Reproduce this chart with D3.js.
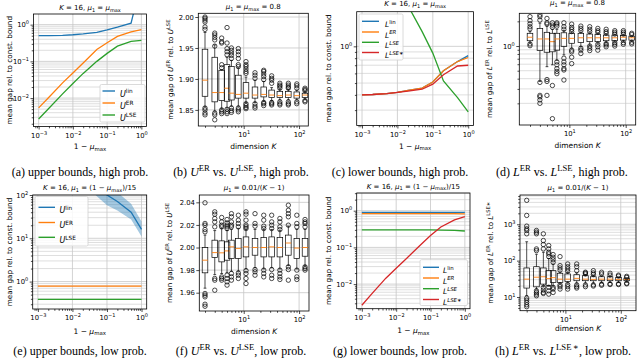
<!DOCTYPE html>
<html>
<head>
<meta charset="utf-8">
<script src="https://cdn.jsdelivr.net/npm/d3@7"></script>
<style>
  body { margin: 0; background: #fff; }
  svg { display: block; }
  text { font-family: "DejaVu Sans", sans-serif; fill: #000; }
  text.cap { font-family: "Liberation Serif", "DejaVu Serif", serif; }
</style>
</head>
<body>
<div id="chart"></div>
<script>
var WIDTH = 640, HEIGHT = 361;
var BLUE = '#1f77b4', ORANGE = '#ff7f0e', GREEN = '#2ca02c', RED = '#d62728';
var GRID_MAJOR = '#c6c6c6', GRID_MINOR = '#d6d6d6';

// ---- line panels: gap vs 1 - mu_max
var gapX = [0.001, 0.002, 0.005, 0.01, 0.02, 0.05, 0.1, 0.2, 0.5, 1.0];

// (a) upper bounds, high prob.
var aLin = [0.5, 0.505, 0.51, 0.53, 0.56, 0.62, 0.72, 0.85, 1.1, 15];
var aER  = [0.0054, 0.0105, 0.026, 0.048, 0.09, 0.21, 0.32, 0.48, 0.64, 0.73];
var aLSE = [0.0027, 0.0053, 0.013, 0.025, 0.047, 0.1, 0.165, 0.26, 0.35, 0.375];

// (c) lower bounds, high prob.
var cLin  = [0.40, 0.403, 0.41, 0.42, 0.435, 0.455, 0.51, 0.63, 0.75, 0.84];
var cER   = [0.40, 0.403, 0.41, 0.42, 0.435, 0.455, 0.51, 0.63, 0.75, 0.81];
var cLSE  = [40, 15, 5, 3.3, 2.15, 1.32, 0.88, 0.52, 0.38, 0.29];
var cLSEs = [0.40, 0.403, 0.41, 0.42, 0.43, 0.445, 0.49, 0.585, 0.69, 0.70];

// (e) upper bounds, low prob.
var eLin   = [5000, 3000, 1200, 600, 320, 160, 100, 71, 40, 16];
var eLinLo = [3000, 1800, 700, 350, 190, 95, 58, 44, 27, 11];
var eLinHi = [8000, 5000, 2000, 1000, 550, 280, 170, 115, 63, 24.5];
var eER    = [0.79, 0.79, 0.79, 0.79, 0.79, 0.79, 0.79, 0.79, 0.79, 0.79];
var eLSE   = [0.39, 0.39, 0.39, 0.39, 0.39, 0.39, 0.39, 0.39, 0.39, 0.39];

// (g) lower bounds, low prob.
var gLin  = [0.9, 0.9, 0.9, 0.9, 0.9, 0.9, 0.9, 0.9, 0.9, 0.9];
var gER   = [0.83, 0.83, 0.83, 0.83, 0.83, 0.83, 0.83, 0.83, 0.83, 0.82];
var gLSE  = [0.3, 0.3, 0.3, 0.3, 0.3, 0.3, 0.3, 0.295, 0.29, 0.28];
var gLSEs = [0.00265, 0.0056, 0.0145, 0.027, 0.05, 0.115, 0.21, 0.36, 0.56, 0.69];

// ---- box plot panels: gap ratio vs dimension K
var K = [2, 3, 4, 5, 6, 8, 11, 16, 23, 32, 45, 64, 91, 128];

// (b) U^ER vs U^LSE, high prob.
var bLo  = [1.855, 1.848, 1.852, 1.853, 1.856, 1.856, 1.862, 1.862, 1.864, 1.865, 1.866, 1.866, 1.866, 1.867];
var bQ1  = [1.872, 1.863, 1.865, 1.864, 1.866, 1.869, 1.869, 1.869, 1.871, 1.870, 1.870, 1.870, 1.869, 1.870];
var bMed = [1.898, 1.878, 1.878, 1.885, 1.877, 1.875, 1.877, 1.874, 1.875, 1.874, 1.873, 1.874, 1.873, 1.874];
var bQ3  = [1.948, 1.935, 1.914, 1.923, 1.920, 1.906, 1.894, 1.887, 1.887, 1.882, 1.880, 1.880, 1.879, 1.877];
var bHi  = [1.975, 1.955, 1.915, 1.935, 1.930, 1.918, 1.903, 1.898, 1.896, 1.886, 1.883, 1.883, 1.882, 1.879];
var bOut = [
    [2.000, 1.998, 1.995, 1.992, 1.984, 1.980, 1.853, 1.850, 1.845, 1.842],
    [1.974, 1.971, 1.967, 1.963, 1.953, 1.845, 1.842, 1.834],
    [1.966, 1.960, 1.958, 1.923, 1.918, 1.850, 1.847, 1.844],
    [1.983, 1.958, 1.949, 1.944, 1.939, 1.851, 1.847, 1.844],
    [1.950, 1.946, 1.942, 1.938, 1.933, 1.853, 1.849, 1.846],
    [1.949, 1.944, 1.939, 1.933, 1.923, 1.920, 1.853, 1.850, 1.847],
    [1.928, 1.923, 1.920, 1.916, 1.912, 1.909, 1.860, 1.857, 1.854, 1.852],
    [1.910, 1.906, 1.901, 1.860, 1.856, 1.853],
    [1.914, 1.912, 1.908, 1.904, 1.899, 1.862, 1.860, 1.857],
    [1.905, 1.901, 1.898, 1.893, 1.862, 1.860, 1.858],
    [1.893, 1.890, 1.888, 1.885, 1.863, 1.860, 1.858],
    [1.893, 1.890, 1.887, 1.885, 1.863, 1.860, 1.858],
    [1.892, 1.889, 1.885, 1.863, 1.860],
    [1.885, 1.883, 1.881, 1.865, 1.863]
];

// (d) L^ER vs L^LSE, high prob.
var dLo  = [1.10, 0.37, 0.56, 0.59, 0.67, 0.78, 0.94, 0.98, 1.02, 1.08, 1.10, 1.12, 1.12, 1.13];
var dQ1  = [1.16, 0.88, 0.84, 0.85, 0.89, 0.99, 1.08, 1.10, 1.13, 1.13, 1.16, 1.16, 1.18, 1.18];
var dMed = [1.28, 1.22, 1.22, 1.13, 1.22, 1.24, 1.24, 1.26, 1.26, 1.26, 1.26, 1.26, 1.28, 1.26];
var dQ3  = [1.43, 1.64, 1.47, 1.43, 1.43, 1.45, 1.43, 1.43, 1.40, 1.39, 1.36, 1.36, 1.35, 1.32];
var dHi  = [1.50, 1.90, 1.75, 1.60, 1.60, 1.55, 1.48, 1.48, 1.45, 1.42, 1.40, 1.37, 1.37, 1.33];
var dOut = [
    [2.28, 2.04, 1.87, 1.72, 1.62, 1.06, 1.01],
    [2.39, 2.28, 2.07, 0.36, 0.25, 0.24, 0.22, 0.20],
    [2.17, 1.92, 1.85, 0.39, 0.37, 0.25],
    [1.92, 1.80, 1.69, 0.33, 0.13],
    [1.92, 1.85, 1.75, 0.64, 0.59, 0.53, 0.49, 0.46],
    [1.92, 1.72, 1.60, 0.71, 0.64, 0.59, 0.53, 0.51, 0.385],
    [1.85, 1.69, 1.60, 1.50, 0.89, 0.85, 0.73, 0.61],
    [1.75, 1.64, 1.54, 0.94, 0.89, 0.81],
    [1.72, 1.60, 1.50, 1.00, 0.94, 0.88],
    [1.64, 1.54, 1.47, 1.05, 0.98, 0.89],
    [1.60, 1.50, 1.43, 1.07, 1.03, 0.98],
    [1.54, 1.47, 1.40, 1.10, 1.05, 1.00],
    [1.54, 1.47, 1.40, 1.10, 1.05],
    [1.43, 1.38, 1.11, 1.06]
];

// (f) U^ER vs U^LSE, low prob.
var fLo  = [1.964, 1.976, 1.977, 1.978, 1.979, 1.979, 1.981, 1.982, 1.981, 1.982, 1.981, 1.984, 1.981, 1.984];
var fQ1  = [1.9776, 1.9911, 1.9873, 1.9888, 1.9903, 1.9903, 1.9917, 1.9932, 1.9917, 1.9917, 1.9917, 1.9932, 1.9903, 1.9923];
var fMed = [1.9888, 1.9955, 1.9953, 1.9970, 2.0006, 1.9991, 2.0006, 2.0000, 2.0000, 2.0006, 2.0000, 2.0040, 1.9995, 2.0000];
var fQ3  = [2.0000, 2.0065, 2.0059, 2.0050, 2.0065, 2.0080, 2.0094, 2.0080, 2.0089, 2.0094, 2.0089, 2.0110, 2.0080, 2.0080];
var fHi  = [2.011, 2.015, 2.017, 2.015, 2.016, 2.017, 2.016, 2.016, 2.016, 2.016, 2.015, 2.019, 2.016, 2.016];
var fOut = [
    [2.0396, 2.0213, 2.0198, 2.0159, 2.0139, 1.9593, 1.9578, 1.9563, 1.9498, 1.9480],
    [2.0316, 2.0295, 2.0257, 2.0227, 2.0183, 1.9726, 1.9711, 1.9622],
    [2.0266, 2.0227, 2.0198, 2.0183, 1.9740, 1.9726, 1.9711],
    [2.0248, 2.0218, 2.0198, 2.0183, 2.0168, 1.9755, 1.9726, 1.9696, 1.9667],
    [2.0300, 2.0272, 2.0227, 2.0198, 2.0183, 1.9770, 1.9740, 1.9711],
    [2.0286, 2.0242, 2.0213, 2.0183, 1.9775, 1.9755, 1.9726],
    [2.0316, 2.0295, 2.0242, 2.0198, 2.0183, 2.0168, 1.9795, 1.9770, 1.9726, 1.9681],
    [2.0300, 2.0213, 2.0189, 1.9805, 1.9785, 1.9755],
    [2.0286, 2.0242, 2.0189, 2.0168, 1.9800, 1.9770, 1.9740],
    [2.0286, 2.0227, 2.0198, 2.0168, 1.9805, 1.9755, 1.9726],
    [2.0257, 2.0227, 2.0183, 2.0159, 1.9800, 1.9770, 1.9740, 1.9717],
    [2.0375, 2.0330, 2.0300, 2.0272, 2.0198, 1.9829, 1.9805, 1.9711],
    [2.0286, 2.0213, 2.0183, 1.9800, 1.9740, 1.9717],
    [2.0248, 2.0227, 2.0213, 2.0183, 1.9829, 1.9814, 1.9800]
];

// (h) L^ER vs L^LSE*, low prob.
var hLo  = [11, 16.5, 19.5, 19.8, 20, 23, 24, 24, 24, 24, 25, 25, 25, 25.5];
var hQ1  = [17.6, 19, 22.6, 21, 25, 25.2, 26.8, 28, 28, 28, 28, 28, 28, 28];
var hMed = [31, 35, 36, 32, 34, 31, 31, 32.5, 31, 30.5, 31, 31, 30.5, 30.5];
var hQ3  = [63, 68, 63, 53, 53, 45, 43, 41, 38.5, 36, 36, 36, 34.6, 33];
var hHi  = [330, 150, 170, 115, 80, 48, 47, 46, 41, 39, 38, 37, 35.5, 33.5];
var hOut = [
    [4560, 1750, 890, 750, 675, 546, 9.3, 8.2, 7.1, 6.1, 5.4],
    [675, 606, 546, 210, 189, 14.8, 13.3, 12, 10.8],
    [546, 357, 277, 210, 18.4, 15.5, 13.3, 12.5],
    [260, 210, 170, 153, 129, 18.4, 14.8, 12],
    [147, 124, 106, 90, 18.4, 16.5, 13.3],
    [129, 73, 63, 55, 21.5, 19.2, 16.5],
    [81, 68, 59, 51, 22, 19.2, 16.5],
    [81, 68, 53, 21.5, 19.2, 17.6],
    [48, 45.5, 43, 21.5, 19.2],
    [53, 46, 41.5, 21.5, 20],
    [48, 43, 22.5, 21],
    [45, 40, 23, 22],
    [40, 37.5, 23, 22],
    [37, 34.5, 24, 23]
];

// ---- text pieces (math parts as [text, style])
var TITLE_HIGH = [['K', 'i'], [' = 16, '], ['μ', 'i'], ['1', 'sub'], [' = '], ['μ', 'i'], ['max', 'sub']];
var TITLE_HIGH_K = [['μ', 'i'], ['1', 'sub'], [' = '], ['μ', 'i'], ['max', 'sub'], [' = 0.8']];
var TITLE_LOW = [['K', 'i'], [' = 16, '], ['μ', 'i'], ['1', 'sub'], [' = (1 \u2212 '], ['μ', 'i'], ['max', 'sub'], [')/15']];
var TITLE_LOW_K = [['μ', 'i'], ['1', 'sub'], [' = 0.01/('], ['K', 'i'], [' \u2212 1)']];
var XLAB_MU = [['1 \u2212 '], ['μ', 'i'], ['max', 'sub']];
var XLAB_K = [['dimension '], ['K', 'i']];
var YLAB_BOUND = [['mean gap rel. to const. bound']];

var svg = d3.select('#chart').append('svg')
    .attr('width', WIDTH)
    .attr('height', HEIGHT);

var clipCount = 0;

var isDecade = function(v) {
    var l = Math.log10(v);
    return Math.abs(l - Math.round(l)) < 1e-6;
};

// write text made of styled pieces into a <text> element
function rich(sel, parts, size) {
    var shift = 0;
    parts.forEach(function(p) {
        var kind = (p[1] || '').split(' ');
        var target = 0, fs = size;
        if (kind.indexOf('sup') >= 0) { target = -size * 0.42; fs = size * 0.72; }
        if (kind.indexOf('sub') >= 0) { target = size * 0.24; fs = size * 0.72; }
        var t = sel.append('tspan').attr('font-size', fs).text(p[0]);
        if (target !== shift) { t.attr('dy', target - shift); shift = target; }
        if (kind.indexOf('i') >= 0) t.attr('font-style', 'italic');
    });
    return sel;
}

function powLabel(sel, v) {
    var e = Math.round(Math.log10(v));
    sel.text('');
    sel.append('tspan').text('10');
    sel.append('tspan').attr('dy', -3).attr('font-size', 5)
        .text(e < 0 ? '\u2212' + (-e) : '' + e);
}

function pow10(e) { return Math.pow(10, e); }

/**
 * Build one subplot: grid, clip, frame, ticks, labels.
 */
function makeAxes(p) {
    var f = p.frame;
    var x = d3.scaleLog().domain(p.xDomain).range([f.x0, f.x1]);
    var y = (p.yLog ? d3.scaleLog() : d3.scaleLinear()).domain(p.yDomain).range([f.y1, f.y0]);
    var g = svg.append('g');
    var clipId = 'clip' + (clipCount++);
    g.append('clipPath').attr('id', clipId).append('rect')
        .attr('x', f.x0).attr('y', f.y0)
        .attr('width', f.x1 - f.x0).attr('height', f.y1 - f.y0);

    var xAll = x.ticks();
    var xMajor = xAll.filter(isDecade);
    var xMinor = xAll.filter(function(v) { return !isDecade(v); });
    var yMajor, yMinor;
    if (p.yLog) {
        var yAll = y.ticks();
        yMajor = yAll.filter(isDecade);
        yMinor = yAll.filter(function(v) { return !isDecade(v); });
    } else {
        yMajor = p.yTicks;
        yMinor = [];
    }

    // grid lines
    var grid = g.append('g').attr('stroke-width', 0.8);
    grid.selectAll('line.ymin').data(yMinor).join('line').attr('class', 'ymin')
        .attr('x1', f.x0).attr('x2', f.x1)
        .attr('y1', function(d) { return y(d); }).attr('y2', function(d) { return y(d); })
        .attr('stroke', GRID_MINOR);
    grid.selectAll('line.ymaj').data(yMajor).join('line').attr('class', 'ymaj')
        .attr('x1', f.x0).attr('x2', f.x1)
        .attr('y1', function(d) { return y(d); }).attr('y2', function(d) { return y(d); })
        .attr('stroke', GRID_MAJOR);
    grid.selectAll('line.xmaj').data(xMajor).join('line').attr('class', 'xmaj')
        .attr('y1', f.y0).attr('y2', f.y1)
        .attr('x1', function(d) { return x(d); }).attr('x2', function(d) { return x(d); })
        .attr('stroke', GRID_MAJOR);

    var plot = g.append('g').attr('clip-path', 'url(#' + clipId + ')');

    var top = g.append('g');
    top.append('rect')
        .attr('x', f.x0).attr('y', f.y0)
        .attr('width', f.x1 - f.x0).attr('height', f.y1 - f.y0)
        .attr('fill', 'none').attr('stroke', '#000').attr('stroke-width', 0.8);

    var blank = function() { return ''; };
    var styleAxis = function(a) {
        a.select('.domain').remove();
        a.attr('font-size', 6.8).attr('font-family', null);
        a.selectAll('line').attr('stroke-width', 0.7);
    };

    // x ticks
    var xMin = top.append('g').attr('transform', 'translate(0,' + f.y1 + ')')
        .call(d3.axisBottom(x).tickValues(xMinor).tickSize(1.8).tickFormat(blank));
    styleAxis(xMin);
    var xMaj = top.append('g').attr('transform', 'translate(0,' + f.y1 + ')')
        .call(d3.axisBottom(x).tickValues(xMajor).tickSize(3).tickPadding(3.2).tickFormat(blank));
    styleAxis(xMaj);
    xMaj.selectAll('.tick text').each(function(d) { powLabel(d3.select(this), d); });

    // y ticks
    if (p.yLog) {
        var yMin = top.append('g').attr('transform', 'translate(' + f.x0 + ',0)')
            .call(d3.axisLeft(y).tickValues(yMinor).tickSize(1.8).tickFormat(blank));
        styleAxis(yMin);
        var yMaj = top.append('g').attr('transform', 'translate(' + f.x0 + ',0)')
            .call(d3.axisLeft(y).tickValues(yMajor).tickSize(3).tickPadding(1.5).tickFormat(blank));
        styleAxis(yMaj);
        yMaj.selectAll('.tick text').each(function(d) { powLabel(d3.select(this), d); });
    } else {
        var yLin = top.append('g').attr('transform', 'translate(' + f.x0 + ',0)')
            .call(d3.axisLeft(y).tickValues(yMajor).tickSize(3).tickPadding(1.5).tickFormat(d3.format('.2f')));
        styleAxis(yLin);
    }

    // title, axis labels, caption
    var cx = (f.x0 + f.x1) / 2, cy = (f.y0 + f.y1) / 2;
    rich(top.append('text').attr('x', cx).attr('y', p.titleY).attr('text-anchor', 'middle'), p.title, 7);
    rich(top.append('text').attr('x', cx).attr('y', f.y1 + p.xLabelDy).attr('text-anchor', 'middle'), p.xLabel, 7.5);
    rich(top.append('text')
        .attr('transform', 'translate(' + p.yLabelX + ',' + cy + ') rotate(-90)')
        .attr('text-anchor', 'middle').attr('dy', '0.35em'), p.yLabel, 7.2);
    rich(top.append('text').attr('class', 'cap')
        .attr('x', p.capX).attr('y', p.capY).attr('text-anchor', 'middle'), p.caption, 12);

    return {x: x, y: y, g: g, plot: plot, frame: f};
}

function drawLine(ax, values, color) {
    var line = d3.line()
        .x(function(d, i) { return ax.x(gapX[i]); })
        .y(function(d) { return ax.y(d); });
    ax.plot.append('path').datum(values)
        .attr('d', line)
        .attr('fill', 'none')
        .attr('stroke', color)
        .attr('stroke-width', 1.3);
}

function drawBand(ax, lo, hi, color) {
    var area = d3.area()
        .x(function(d, i) { return ax.x(gapX[i]); })
        .y0(function(d, i) { return ax.y(lo[i]); })
        .y1(function(d, i) { return ax.y(hi[i]); });
    ax.plot.append('path').datum(gapX)
        .attr('d', area)
        .attr('fill', color)
        .attr('fill-opacity', 0.4);
}

function drawLegend(ax, L) {
    var lg = ax.g.append('g');
    lg.append('rect')
        .attr('x', L.x0).attr('y', L.y0)
        .attr('width', L.x1 - L.x0).attr('height', L.y1 - L.y0)
        .attr('rx', 1.5)
        .attr('fill', '#fff').attr('fill-opacity', 0.85)
        .attr('stroke', '#d0d0d0').attr('stroke-width', 0.8);
    L.rows.forEach(function(r, i) {
        var yy = L.rowY[i];
        lg.append('line')
            .attr('x1', L.sx0).attr('x2', L.sx1)
            .attr('y1', yy).attr('y2', yy)
            .attr('stroke', r[0]).attr('stroke-width', 1.4);
        rich(lg.append('text').attr('x', L.tx).attr('y', yy).attr('dy', '0.35em'), r[1], L.size);
    });
}

function drawBoxes(ax, lo, q1, med, q3, hi, out) {
    var w = 5.6;
    var boxes = ax.plot.selectAll('g.box').data(K).join('g').attr('class', 'box');
    boxes.each(function(k, i) {
        var b = d3.select(this);
        var cx = ax.x(k);
        var stroke = function(s) { return s.attr('stroke', '#000').attr('stroke-width', 0.7); };
        stroke(b.append('line').attr('x1', cx).attr('x2', cx).attr('y1', ax.y(q3[i])).attr('y2', ax.y(hi[i])));
        stroke(b.append('line').attr('x1', cx).attr('x2', cx).attr('y1', ax.y(q1[i])).attr('y2', ax.y(lo[i])));
        stroke(b.append('line').attr('x1', cx - w / 4).attr('x2', cx + w / 4).attr('y1', ax.y(hi[i])).attr('y2', ax.y(hi[i])));
        stroke(b.append('line').attr('x1', cx - w / 4).attr('x2', cx + w / 4).attr('y1', ax.y(lo[i])).attr('y2', ax.y(lo[i])));
        stroke(b.append('rect')
            .attr('x', cx - w / 2).attr('width', w)
            .attr('y', ax.y(q3[i])).attr('height', Math.max(0.5, ax.y(q1[i]) - ax.y(q3[i])))
            .attr('fill', 'none'));
        b.append('line')
            .attr('x1', cx - w / 2).attr('x2', cx + w / 2)
            .attr('y1', ax.y(med[i])).attr('y2', ax.y(med[i]))
            .attr('stroke', ORANGE).attr('stroke-width', 0.9);
        b.selectAll('circle').data(out[i]).join('circle')
            .attr('cx', cx).attr('cy', function(d) { return ax.y(d); })
            .attr('r', 2.2)
            .attr('fill', 'none').attr('stroke', '#000').attr('stroke-width', 0.7);
    });
}

var LINE_X = [pow10(-3.15), pow10(0.15)];

// (a)
var axA = makeAxes({
    frame: {x0: 33.5, x1: 146.5, y0: 14, y1: 126.5},
    xDomain: LINE_X, yDomain: [pow10(-2.774), pow10(0.29)], yLog: true,
    title: TITLE_HIGH, titleY: 10, xLabel: XLAB_MU, xLabelDy: 22.5,
    yLabel: YLAB_BOUND, yLabelX: 6,
    caption: [['(a) upper bounds, high prob.']], capX: 80, capY: 176
});
drawLine(axA, aLin, BLUE);
drawLine(axA, aER, ORANGE);
drawLine(axA, aLSE, GREEN);
drawLegend(axA, {
    x0: 100, x1: 145, y0: 84.5, y1: 122, sx0: 102.5, sx1: 115, tx: 120, size: 8,
    rowY: [91, 103, 115],
    rows: [[BLUE, [['U', 'i'], ['lin', 'sup']]], [ORANGE, [['U', 'i'], ['ER', 'sup']]], [GREEN, [['U', 'i'], ['LSE', 'sup']]]]
});

// (b)
var axB = makeAxes({
    frame: {x0: 198.3, x1: 308.3, y0: 13.3, y1: 126},
    xDomain: [pow10(0.18), pow10(2.167)], yDomain: [1.824, 2.006], yLog: false,
    yTicks: [1.85, 1.90, 1.95, 2.00],
    title: TITLE_HIGH_K, titleY: 9, xLabel: XLAB_K, xLabelDy: 22.5,
    yLabel: [['mean gap of '], ['U', 'i'], ['ER', 'sup'], [' rel. to '], ['U', 'i'], ['LSE', 'sup']], yLabelX: 167,
    caption: [['(b) '], ['U', 'i'], ['ER', 'sup'], [' vs. '], ['U', 'i'], ['LSE', 'sup'], [', high prob.']],
    capX: 241, capY: 176
});
drawBoxes(axB, bLo, bQ1, bMed, bQ3, bHi, bOut);

// (c)
var axC = makeAxes({
    frame: {x0: 356.7, x1: 473.5, y0: 11.7, y1: 125.5},
    xDomain: LINE_X, yDomain: [pow10(-0.649), pow10(0.284)], yLog: true,
    title: TITLE_HIGH, titleY: 6, xLabel: XLAB_MU, xLabelDy: 23,
    yLabel: YLAB_BOUND, yLabelX: 325,
    caption: [['(c) lower bounds, high prob.']], capX: 400, capY: 176
});
drawLine(axC, cLin, BLUE);
drawLine(axC, cER, ORANGE);
drawLine(axC, cLSE, GREEN);
drawLine(axC, cLSEs, RED);
drawLegend(axC, {
    x0: 359, x1: 403, y0: 14, y1: 60, sx0: 362, sx1: 379, tx: 385, size: 7.5,
    rowY: [21.3, 32, 42.3, 52.5],
    rows: [[BLUE, [['L', 'i'], ['lin', 'sup']]], [ORANGE, [['L', 'i'], ['ER', 'i sup']]],
           [GREEN, [['L', 'i'], ['LSE', 'i sup']]], [RED, [['L', 'i'], ['LSE\u2217', 'i sup']]]]
});

// (d)
var axD = makeAxes({
    frame: {x0: 519.3, x1: 635.7, y0: 13.3, y1: 125},
    xDomain: [pow10(0.111), pow10(2.178)], yDomain: [pow10(-0.963), pow10(0.399)], yLog: true,
    title: TITLE_HIGH_K, titleY: 5, xLabel: XLAB_K, xLabelDy: 22.5,
    yLabel: [['mean gap of '], ['L', 'i'], ['ER', 'sup'], [' rel. to '], ['L', 'i'], ['LSE', 'sup']], yLabelX: 486,
    caption: [['(d) '], ['L', 'i'], ['ER', 'sup'], [' vs. '], ['L', 'i'], ['LSE', 'sup'], [', high prob.']],
    capX: 562, capY: 176
});
drawBoxes(axD, dLo, dQ1, dMed, dQ3, dHi, dOut);

// (e)
var axE = makeAxes({
    frame: {x0: 32.7, x1: 146.7, y0: 195, y1: 309},
    xDomain: LINE_X, yDomain: [pow10(-0.633), 100], yLog: true,
    title: TITLE_LOW, titleY: 190, xLabel: XLAB_MU, xLabelDy: 24.5,
    yLabel: YLAB_BOUND, yLabelX: 6,
    caption: [['(e) upper bounds, low prob.']], capX: 80, capY: 354.5
});
drawBand(axE, eLinLo, eLinHi, BLUE);
drawLine(axE, eLin, BLUE);
drawLine(axE, eER, ORANGE);
drawLine(axE, eLSE, GREEN);
drawLegend(axE, {
    x0: 35, x1: 88, y0: 196.5, y1: 246, sx0: 38.5, sx1: 55, tx: 59.5, size: 8,
    rowY: [207.3, 222.5, 237.3],
    rows: [[BLUE, [['U', 'i'], ['lin', 'sup']]], [ORANGE, [['U', 'i'], ['ER', 'sup']]], [GREEN, [['U', 'i'], ['LSE', 'sup']]]]
});

// (f)
var axF = makeAxes({
    frame: {x0: 199.3, x1: 309, y0: 195, y1: 311},
    xDomain: [pow10(0.198), pow10(2.179)], yDomain: [1.9438, 2.0465], yLog: false,
    yTicks: [1.96, 1.98, 2.00, 2.02, 2.04],
    title: TITLE_LOW_K, titleY: 190, xLabel: XLAB_K, xLabelDy: 22.5,
    yLabel: [['mean gap of '], ['U', 'i'], ['ER', 'sup'], [' rel. to '], ['U', 'i'], ['LSE', 'sup']], yLabelX: 166,
    caption: [['(f) '], ['U', 'i'], ['ER', 'sup'], [' vs. '], ['U', 'i'], ['LSE', 'sup'], [', low prob.']],
    capX: 241, capY: 355
});
drawBoxes(axF, fLo, fQ1, fMed, fQ3, fHi, fOut);

// (g)
var axG = makeAxes({
    frame: {x0: 356.7, x1: 470, y0: 193, y1: 308.7},
    xDomain: LINE_X, yDomain: [pow10(-2.67), pow10(0.482)], yLog: true,
    title: TITLE_LOW, titleY: 188.5, xLabel: XLAB_MU, xLabelDy: 24,
    yLabel: YLAB_BOUND, yLabelX: 325,
    caption: [['(g) lower bounds, low prob.']], capX: 400, capY: 354.5
});
drawLine(axG, gLin, BLUE);
drawLine(axG, gER, ORANGE);
drawLine(axG, gLSE, GREEN);
drawLine(axG, gLSEs, RED);
drawLegend(axG, {
    x0: 420, x1: 467.5, y0: 259.7, y1: 305.5, sx0: 423, sx1: 439, tx: 443, size: 7.5,
    rowY: [267.3, 278, 288.7, 299.5],
    rows: [[BLUE, [['L', 'i'], ['lin', 'sup']]], [ORANGE, [['L', 'i'], ['ER', 'i sup']]],
           [GREEN, [['L', 'i'], ['LSE', 'i sup']]], [RED, [['L', 'i'], ['LSE\u2217', 'i sup']]]]
});

// (h)
var axH = makeAxes({
    frame: {x0: 520, x1: 636, y0: 195, y1: 310.7},
    xDomain: [pow10(0.18), pow10(2.275)], yDomain: [pow10(0.623), pow10(3.805)], yLog: true,
    title: TITLE_LOW_K, titleY: 190, xLabel: XLAB_K, xLabelDy: 20.5,
    yLabel: [['mean gap of '], ['L', 'i'], ['ER', 'sup'], [' rel. to '], ['L', 'i'], ['LSE\u2217', 'sup']], yLabelX: 487,
    caption: [['(h) '], ['L', 'i'], ['ER', 'sup'], [' vs. '], ['L', 'i'], ['LSE\u2009\u2217', 'sup'], [', low prob.']],
    capX: 563, capY: 355
});
drawBoxes(axH, hLo, hQ1, hMed, hQ3, hHi, hOut);
</script>
</body>
</html>
